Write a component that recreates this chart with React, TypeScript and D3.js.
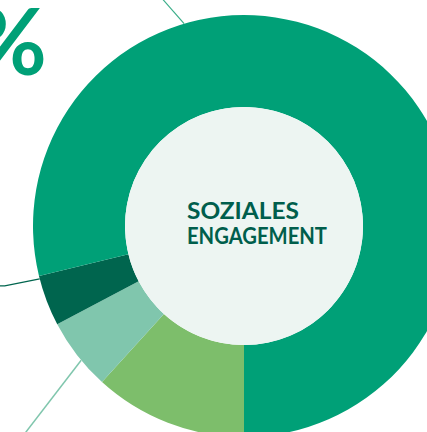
import * as d3 from "d3";

// slices in drawing order, starting at 6 o'clock, clockwise
const categories = ["Kategorie A", "Kategorie B", "Kategorie C", "Kategorie D"];
const values = [11.75, 5.55, 3.9, 78.8];
const colors = ["#7dbe6b", "#80c6ad", "#00654e", "#00a077"];
const titleLines = ["SOZIALES", "ENGAGEMENT"];
const titleWidths = [112, 140];

export default function App() {
  const width = 427;
  const height = 432;
  const cx = 244;
  const cy = 226;
  const outerR = 211;
  const innerR = 119;

  const pie = d3
    .pie<number>()
    .sort(null)
    .startAngle(Math.PI)
    .endAngle(Math.PI * 3)
    .value((d) => d);
  const arcs = pie(values);
  const arc = d3.arc<d3.PieArcDatum<number>>().innerRadius(innerR).outerRadius(outerR);

  // point on the outer edge at a given angle (radians, clockwise from 12 o'clock)
  const onEdge = (a: number): [number, number] => [
    cx + Math.sin(a) * outerR,
    cy - Math.cos(a) * outerR,
  ];

  const line = d3.line();
  const topA = onEdge((343.5 * Math.PI) / 180);
  const leftA = onEdge((255.5 * Math.PI) / 180);
  const botA = onEdge((230.5 * Math.PI) / 180);

  return (
    <svg width={width} height={height} style={{ position: "absolute", left: 0, top: 0 }}>
      <text
        x={47}
        y={75}
        textAnchor="end"
        fill="#00a077"
        fontFamily="Lato, sans-serif"
        fontWeight={700}
        fontSize={92}
      >
        %
      </text>

      <path d={line([topA, [topA[0] - 21, topA[1] - 24]]) ?? ""} stroke="#3aad88" strokeWidth={1.2} fill="none" />
      <path
        d={line([leftA, [leftA[0] - 35, leftA[1] + 7], [leftA[0] - 60, leftA[1] + 7]]) ?? ""}
        stroke="#00654e"
        strokeWidth={1.3}
        fill="none"
      />
      <path d={line([botA, [botA[0] - 60, botA[1] + 78]]) ?? ""} stroke="#80c6ad" strokeWidth={1.5} fill="none" />

      <g transform={`translate(${cx},${cy})`}>
        {arcs.map((a, i) => (
          <path key={categories[i]} d={arc(a) ?? ""} fill={colors[i]} />
        ))}
        <circle r={innerR} fill="#edf5f2" />
      </g>

      <g fill="#005e4c" fontFamily="Lato, sans-serif" fontWeight={700} fontSize={23}>
        {titleLines.map((t, i) => (
          <text
            key={t}
            x={187}
            y={219 + i * 25}
            textLength={titleWidths[i]}
            lengthAdjust="spacingAndGlyphs"
          >
            {t}
          </text>
        ))}
      </g>
    </svg>
  );
}
